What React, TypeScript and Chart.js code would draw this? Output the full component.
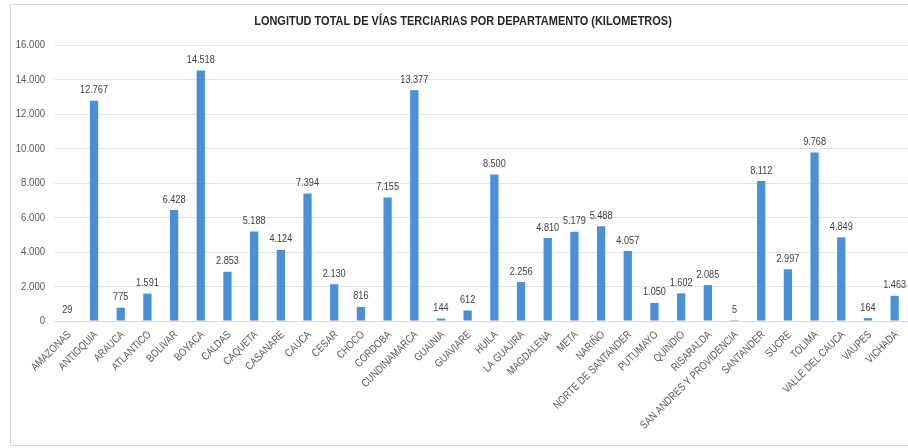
import React, { useEffect, useRef } from "react";
import { Chart, registerables } from "chart.js";

Chart.register(...registerables);

const TITLE = "LONGITUD TOTAL DE VÍAS TERCIARIAS POR DEPARTAMENTO (KILOMETROS)";

const departments = [
  "AMAZONAS", "ANTIOQUIA", "ARAUCA", "ATLANTICO", "BOLIVAR", "BOYACA", "CALDAS", "CAQUETA",
  "CASANARE", "CAUCA", "CESAR", "CHOCO", "CORDOBA", "CUNDINAMARCA", "GUAINIA", "GUAVIARE",
  "HUILA", "LA GUAJIRA", "MAGDALENA", "META", "NARIÑO", "NORTE DE SANTANDER", "PUTUMAYO",
  "QUINDIO", "RISARALDA", "SAN ANDRES Y PROVIDENCIA", "SANTANDER", "SUCRE", "TOLIMA",
  "VALLE DEL CAUCA", "VAUPES", "VICHADA",
];

const kilometers = [
  29, 12767, 775, 1591, 6428, 14518, 2853, 5188,
  4124, 7394, 2130, 816, 7155, 13377, 144, 612,
  8500, 2256, 4810, 5179, 5488, 4057, 1050,
  1602, 2085, 5, 8112, 2997, 9768,
  4849, 164, 1463,
];

const yMin = 0;
const yMax = 16000;
const yStep = 2000;

const FONT = "'Liberation Sans', Arial, sans-serif";
const NARROW = 0.83;
const TEXT = "#595959";
const BAR = "#4a8fd8";

const fmt = (v: number) => String(v).replace(/\B(?=(\d{3})+(?!\d))/g, ".");

function narrowText(ctx: any, text: string, x: number, y: number, sx: number, rot = 0) {
  ctx.save();
  ctx.translate(x, y);
  if (rot) ctx.rotate(rot);
  ctx.scale(sx, 1);
  ctx.fillText(text, 0, 0);
  ctx.restore();
}

const decorPlugin = {
  id: "decor",
  beforeDraw(chart: any) {
    const ctx = chart.ctx;
    ctx.save();
    ctx.fillStyle = "#ffffff";
    ctx.fillRect(0, 0, chart.width, chart.height);
    ctx.strokeStyle = "#d9d9d9";
    ctx.lineWidth = 1;
    ctx.strokeRect(10.5, 4.5, chart.width, chart.height - 7);
    ctx.fillStyle = "#262626";
    ctx.font = `bold 13px ${FONT}`;
    ctx.textAlign = "center";
    ctx.textBaseline = "middle";
    narrowText(ctx, TITLE, 463, 21, 0.845);
    ctx.restore();
  },
  afterDraw(chart: any) {
    const ctx = chart.ctx;
    const xs = chart.scales.x;
    const ys = chart.scales.y;
    ctx.save();
    ctx.fillStyle = TEXT;
    // y tick labels
    ctx.font = `11.5px ${FONT}`;
    ctx.textAlign = "right";
    ctx.textBaseline = "middle";
    for (let v = yMin; v <= yMax; v += yStep) {
      narrowText(ctx, fmt(v), 45, ys.getPixelForValue(v), NARROW);
    }
    // x labels rotated
    ctx.font = `11px ${FONT}`;
    ctx.textAlign = "right";
    ctx.textBaseline = "middle";
    const base = ys.getPixelForValue(0);
    departments.forEach((d, i) => {
      const x = xs.getPixelForValue(i);
      narrowText(ctx, d, x + 2, base + 12, NARROW, -Math.PI / 4);
    });
    // data labels
    const meta = chart.getDatasetMeta(0);
    ctx.fillStyle = "#404040";
    ctx.font = `11px ${FONT}`;
    ctx.textAlign = "center";
    ctx.textBaseline = "bottom";
    meta.data.forEach((bar: any, i: number) => {
      narrowText(ctx, fmt(kilometers[i]), bar.x, bar.y - 5, NARROW);
    });
    ctx.restore();
  },
};

export default function App() {
  const ref = useRef<HTMLCanvasElement | null>(null);
  useEffect(() => {
    if (!ref.current) return;
    const chart = new Chart(ref.current, {
      type: "bar",
      data: {
        labels: departments,
        datasets: [
          {
            data: kilometers,
            backgroundColor: BAR,
            categoryPercentage: 1,
            barPercentage: 0.31,
          },
        ],
      },
      options: {
        responsive: false,
        animation: false,
        layout: { padding: { top: 45, left: 0, right: 0, bottom: 0 } },
        plugins: {
          legend: { display: false },
          tooltip: { enabled: false },
          title: { display: false },
        },
        scales: {
          x: {
            grid: { display: false, drawTicks: false },
            border: { display: true, color: "#d9d9d9" },
            ticks: { display: false },
            afterFit: (s: any) => {
              s.height = 127;
            },
          },
          y: {
            min: yMin,
            max: yMax,
            grid: { color: "#e3e3e3", drawTicks: false },
            border: { display: false },
            ticks: { display: false, stepSize: yStep },
            afterFit: (s: any) => {
              s.width = 54;
            },
          },
        },
      },
      plugins: [decorPlugin],
    });
    return () => chart.destroy();
  }, []);
  return (
    <div style={{ position: "fixed", left: 0, top: 0, width: 908, height: 448, background: "#fff" }}>
      <canvas ref={ref} width={908} height={448} style={{ width: 908, height: 448, display: "block" }} />
    </div>
  );
}
